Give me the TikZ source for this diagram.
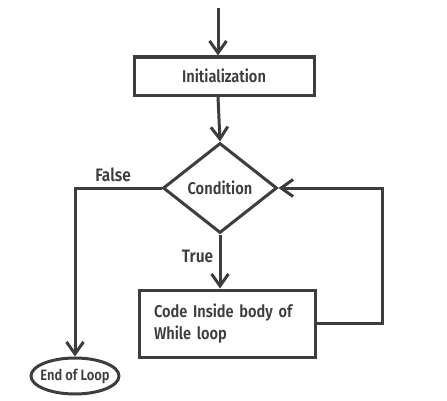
\documentclass[tikz,border=0pt]{standalone}
\usepackage{fontspec}
\setmainfont{Fira Sans SemiBold}[FakeStretch=0.86]
\usepackage{tikz}
\usetikzlibrary{arrows.meta, positioning, shapes.geometric}
\definecolor{flowline}{HTML}{3D3D3D}
\tikzset{
  procbox/.style = {rectangle, draw=flowline, line width=3pt, text=flowline,
                    font=\fontsize{17}{22}\selectfont, inner sep=3pt},
  decbox/.style  = {diamond, draw=flowline, line width=3pt, text=flowline,
                    font=\fontsize{17}{20}\selectfont, inner sep=0pt},
  endbox/.style  = {ellipse, draw=flowline, line width=3pt, text=flowline,
                    font=\fontsize{15}{18}\selectfont, inner xsep=-5pt, inner ysep=1pt},
  branchlbl/.style = {text=flowline, font=\fontsize{18}{21}\selectfont},
  flow/.style    = {-{Straight Barb[length=12pt, width=17pt]}, line width=3pt,
                    draw=flowline},
}
\begin{document}
\begin{tikzpicture}[x=1pt, y=1pt]
  \useasboundingbox (0,0) rectangle (447,400);

  \coordinate (entry) at (218,392);
  \node[procbox, minimum width=180pt, minimum height=38pt] (init) at (224,324)
    {Initialization};
  \node[decbox, minimum width=114pt, minimum height=90pt] (cond) at (220,212)
    {Condition};
  \node[procbox, minimum width=176pt, minimum height=67pt,
        text width=146pt, align=left] (body) at (227,76.5)
    {Code Inside body of\\While loop};
  \node[endbox, minimum width=88pt, minimum height=36pt] (stop) at (75,24)
    {End of Loop};

  % connectors
  \draw[flow] (entry) -- (entry |- init.north);
  \draw[flow] (init.south -| entry) -- (cond.north);
  \draw[flow] (cond.south) -- (body.north -| cond.south)
    node[branchlbl, pos=0.4, left=2pt] (truelbl) {True};
  \draw[flow] (cond.west) -| (stop.north)
    node[branchlbl, pos=0.28, above=1pt] (falselbl) {False};
  \draw[flow] (body.east) -- ++(66,0) |- (cond.east);
\end{tikzpicture}
\end{document}
